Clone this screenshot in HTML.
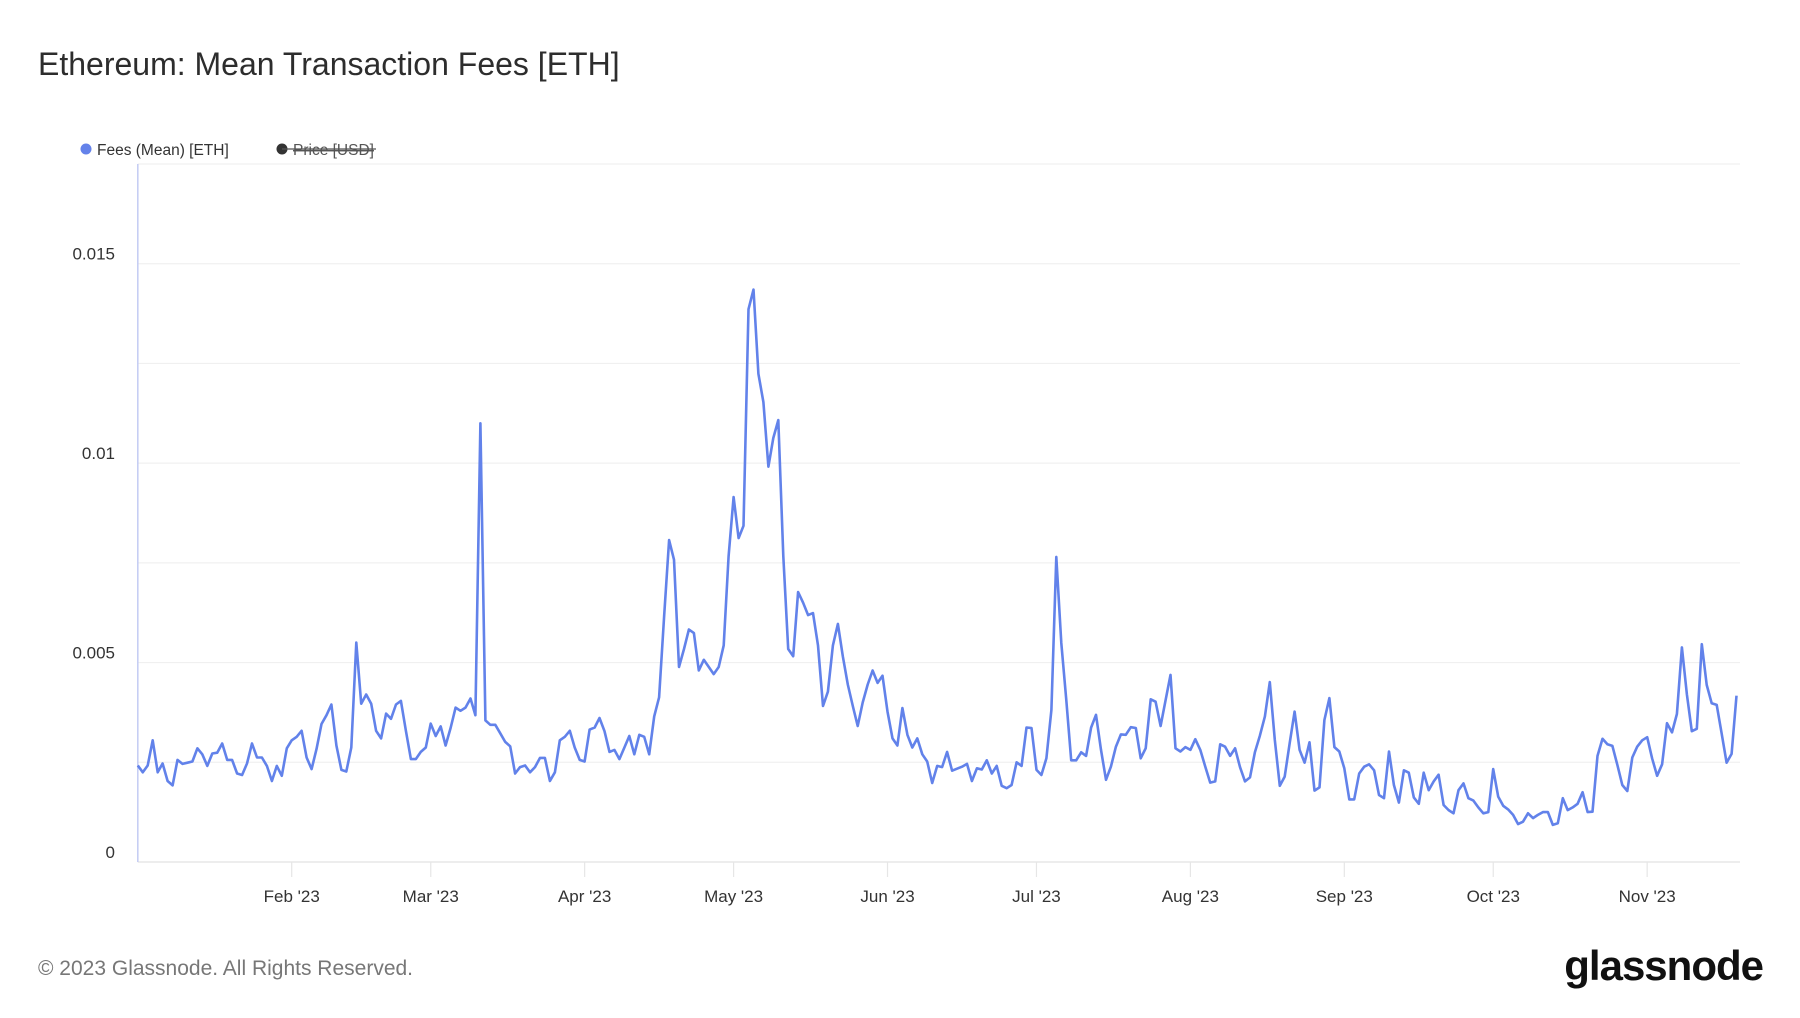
<!DOCTYPE html>
<html><head><meta charset="utf-8"><style>
html,body{margin:0;padding:0;background:#fff;}
body{width:1800px;height:1013px;overflow:hidden;font-family:"Liberation Sans",sans-serif;}
</style></head><body>
<svg id="chart" width="1800" height="1013" viewBox="0 0 1800 1013">
<text x="38" y="75" font-size="32" fill="#2d2d2d">Ethereum: Mean Transaction Fees [ETH]</text>
<g>
<g><circle cx="86" cy="149" r="5.5" fill="#6482ea"/><text x="97" y="155" font-size="15.5" fill="#333">Fees (Mean) [ETH]</text></g>
<g><circle cx="282" cy="149" r="5.5" fill="#333"/><text x="293" y="155" font-size="15.5" fill="#555" text-decoration="line-through">Price [USD]</text><line x1="282" y1="149" x2="376" y2="149" stroke="#555" stroke-width="1.2"/></g>
</g>
<g id="grid"></g><g id="axes"></g><g id="series"></g>
<text x="38" y="975" font-size="21" fill="#777">© 2023 Glassnode. All Rights Reserved.</text>
<text x="1763" y="980" font-size="42" font-weight="bold" fill="#111" text-anchor="end" letter-spacing="-1">glassnode</text>
</svg>
<script>
const yTicks=[0,0.005,0.01,0.015];
const yTickLabels=["0","0.005","0.01","0.015"];
const monthDays=[31,59,90,120,151,181,212,243,273,304];
const monthLabels=["Feb '23","Mar '23","Apr '23","May '23","Jun '23","Jul '23","Aug '23","Sep '23","Oct '23","Nov '23"];
const feesJan=[2.42,2.25,2.42,3.05,2.25,2.47,2.03,1.92,2.56,2.46,2.49,2.52,2.85,2.7,2.41,2.72,2.74,2.97,2.56,2.56,2.22,2.18,2.47,2.97,2.62,2.62,2.41,2.03,2.41,2.16,2.85];
const feesFeb=[3.05,3.14,3.29,2.62,2.33,2.83,3.46,3.68,3.95,2.92,2.31,2.27,2.87,5.5,3.97,4.2,3.97,3.29,3.1,3.72,3.59,3.95,4.04,3.29,2.58,2.58,2.76,2.87];
const feesMar=[3.47,3.16,3.4,2.92,3.36,3.87,3.79,3.87,4.1,3.68,11.0,3.55,3.44,3.44,3.23,3.01,2.9,2.22,2.38,2.42,2.25,2.38];
const feesAprJun=[2.61,2.61,2.03,2.25,3.05,3.14,3.29,2.87,2.56,2.52,3.32,3.37,3.61,3.28,2.76,2.81,2.58,2.87,3.16,2.7,3.19,3.14,2.7,3.65,4.13,6.15,8.07,7.58,4.89,5.34,5.83,5.74,4.8,5.07,4.89,4.71,4.89,5.43,7.67,9.15,8.12,8.43,13.86,14.35,12.24,11.53,9.91,10.63,11.08,7.67,5.34,5.16,6.77,6.5,6.19,6.24,5.43,3.91,4.27,5.43,5.97,5.16,4.45,3.91,3.41,4.0,4.45,4.8,4.49,4.67,3.77,3.1,2.92,3.86,3.19,2.87,3.1,2.7,2.52,1.98,2.41,2.38,2.76,2.29,2.34];
const feesJunSep=[2.39,2.46,2.03,2.35,2.32,2.55,2.22,2.41,1.91,1.85,1.93,2.5,2.41,3.37,3.36,2.31,2.18,2.6,3.81,7.65,5.49,4.06,2.55,2.55,2.75,2.66,3.37,3.69,2.81,2.06,2.39,2.89,3.2,3.19,3.38,3.36,2.6,2.85,4.08,4.02,3.41,4.06,4.69,2.85,2.77,2.88,2.81,3.08,2.81,2.39,1.99,2.02,2.95,2.89,2.66,2.85,2.38,2.02,2.12,2.75,3.17,3.65,4.51,3.06,1.91,2.14,2.98,3.77,2.81,2.49,3.0,1.79,1.87,3.56,4.11,2.88,2.77,2.35,1.57,1.57,2.22,2.39,2.45];
const feesSepNov=[2.3,1.68,1.6,2.77,1.93,1.49,2.3,2.24,1.62,1.46,2.24,1.8,2.02,2.19,1.43,1.3,1.22,1.8,1.97,1.6,1.54,1.37,1.22,1.25,2.33,1.64,1.41,1.32,1.18,0.95,1.01,1.22,1.1,1.18,1.25,1.25,0.93,0.97,1.6,1.3,1.37,1.46,1.75,1.25,1.26,2.66,3.09,2.95,2.91,2.43,1.93,1.78,2.62,2.89,3.05,3.13,2.6,2.16,2.45,3.48,3.25,3.71,5.38,4.2,3.28,3.34,5.46,4.44,3.98,3.94,3.23,2.49,2.71,4.17];
const NS="http://www.w3.org/2000/svg";
const L=137.8,R=1740,Y0=862,YT=164,DAY=4.965;
function xScale(d){return L+d*DAY;}
function yScale(v){return Y0-(v/0.0175)*(Y0-YT);}
function mk(tag,attrs,parent){const e=document.createElementNS(NS,tag);for(const k in attrs)e.setAttribute(k,attrs[k]);parent.appendChild(e);return e;}
const grid=document.getElementById('grid'),axes=document.getElementById('axes'),series=document.getElementById('series');
for(let v=0;v<=0.0175+1e-9;v+=0.0025){
  const l=mk('line',{x1:L,x2:R,y1:yScale(v),y2:yScale(v),stroke:v===0?'#e2e2e2':'#f0f0f0','stroke-width':1.2},grid);
  
  
}
yTicks.forEach((t,i)=>{
  const tx=mk('text',{x:115,y:yScale(t)-4,'font-size':17,fill:'#333','text-anchor':'end'},axes);
  tx.textContent=yTickLabels[i];
  
  
});
const ya=mk('line',{x1:L,x2:L,y1:YT,y2:Y0,stroke:'#c3cbf3','stroke-width':1.5},axes);


monthDays.forEach((d,i)=>{
  const x=xScale(d);
  const tk=mk('line',{x1:x,x2:x,y1:Y0,y2:Y0+15,stroke:'#e6e6e6','stroke-width':1.2},axes);
  
  
  const tx=mk('text',{x:x,y:902,'font-size':17,fill:'#333','text-anchor':'middle'},axes);
  tx.textContent=monthLabels[i];
  
  
});
const fees=[].concat(feesJan,feesFeb,feesMar,feesAprJun,feesJunSep,feesSepNov);
const pts=fees.map((v,i)=>xScale(i).toFixed(1)+','+yScale(v/1000).toFixed(1)).join(' ');
const line=mk('polyline',{points:pts,fill:'none',stroke:'#6282ea','stroke-width':2.6,'stroke-linejoin':'round'},series);


</script>
</body></html>
